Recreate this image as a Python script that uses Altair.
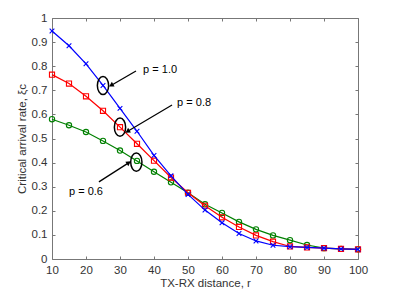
import math
import altair as alt
import pandas as pd

r = [10, 15, 20, 25, 30, 35, 40, 45, 50, 55, 60, 65, 70, 75, 80, 85, 90, 95, 100]
p10 = [0.946, 0.885, 0.81, 0.72, 0.625, 0.53, 0.43, 0.345, 0.268, 0.203, 0.15, 0.106, 0.075, 0.057, 0.051, 0.048, 0.045, 0.042, 0.04]
p08 = [0.765, 0.728, 0.675, 0.615, 0.547, 0.478, 0.408, 0.338, 0.275, 0.221, 0.173, 0.133, 0.098, 0.072, 0.052, 0.048, 0.045, 0.042, 0.04]
p06 = [0.58, 0.555, 0.527, 0.49, 0.45, 0.407, 0.362, 0.318, 0.275, 0.227, 0.191, 0.154, 0.123, 0.098, 0.078, 0.058, 0.045, 0.042, 0.04]

x_ticks = [10, 20, 30, 40, 50, 60, 70, 80, 90, 100]
y_ticks = [0, 0.1, 0.2, 0.3, 0.4, 0.5, 0.6, 0.7, 0.8, 0.9, 1.0]

# annotations
ann_text = ["p = 1.0", "p = 0.8", "p = 0.6"]
ann_tx = [36.8, 46.8, 15.0]
ann_ty = [0.784, 0.647, 0.278]
arrow_x0 = [34.7, 45.3, 23.8]
arrow_y0 = [0.780, 0.639, 0.320]
arrow_x1 = [27.6, 32.4, 32.4]
arrow_y1 = [0.722, 0.531, 0.398]
ell_x = [25, 30, 34.8]
ell_y = [0.72, 0.547, 0.402]

W, H = 306, 241
X0, X1 = 10, 100

def px(x):
    return (x - X0) / (X1 - X0) * W

def py(y):
    return -y * H

angles = []
for a, b, c, d in zip(arrow_x0, arrow_y0, arrow_x1, arrow_y1):
    dx = px(c) - px(a)
    dy = py(d) - py(b)
    angles.append(math.degrees(math.atan2(dx, -dy)) % 360)

font = "Liberation Sans"
xs = alt.Scale(domain=[X0, X1], nice=False, zero=False)
ys = alt.Scale(domain=[0, 1], nice=False, zero=False)

def series_df(vals):
    return pd.DataFrame({"r": r, "v": vals})

axis_common = dict(
    grid=False, domain=False, tickSize=3, offset=-3, tickColor="#777",
    labelFont=font, labelFontSize=11.5, labelColor="#333", titleFont=font,
    titleFontSize=11.5, titleColor="#333", titleFontWeight="normal", labelPadding=5,
    labelOverlap=False, labelFlush=False, labelExpr="format(datum.value, '~r')",
)

xaxis = alt.Axis(values=x_ticks, title="TX-RX distance, r", titlePadding=2, **axis_common)
yaxis = alt.Axis(values=y_ticks, title="Critical arrival rate, ξc", titlePadding=4, **axis_common)

def X(f):
    return alt.X(f, type="quantitative", scale=xs, axis=xaxis)

def Y(f):
    return alt.Y(f, type="quantitative", scale=ys, axis=yaxis)

def layer(vals, color, shape, size):
    d = series_df(vals)
    line = alt.Chart(d).mark_line(color=color, strokeWidth=1.2).encode(x=X("r"), y=Y("v"))
    pts = alt.Chart(d).mark_point(color=color, shape=shape, size=size, filled=False, strokeWidth=1.1, opacity=1).encode(
        x=X("r"), y=Y("v"))
    return line + pts

xpath = "M-1,-1L1,1M-1,1L1,-1"
g = layer(p06, "#008000", "circle", 28)
rd = layer(p08, "#FF0000", "square", 26)
b = layer(p10, "#0000FF", xpath, 22)

ann = pd.DataFrame({"t": ann_text, "tx": ann_tx, "ty": ann_ty, "x0": arrow_x0, "y0": arrow_y0,
                    "x1": arrow_x1, "y1": arrow_y1, "ex": ell_x, "ey": ell_y, "ang": angles})

texts = alt.Chart(ann).mark_text(align="left", baseline="middle", font=font, fontSize=11, color="black").encode(
    x=X("tx"), y=Y("ty"), text="t:N")
rules = alt.Chart(ann).mark_rule(color="black", strokeWidth=1.3).encode(
    x=X("x0"), y=Y("y0"), x2="x1:Q", y2="y1:Q")
heads = alt.Chart(ann).mark_point(shape="triangle", filled=True, color="black", size=30, opacity=1).encode(
    x=X("x1"), y=Y("y1"), angle=alt.Angle("ang:Q", scale=None))
k = 0.5523
rx = 0.62
ell_path = (f"M0,-1C{rx*k:.3f},-1 {rx},{-k} {rx},0C{rx},{k} {rx*k:.3f},1 0,1"
            f"C{-rx*k:.3f},1 {-rx},{k} {-rx},0C{-rx},{-k} {-rx*k:.3f},-1 0,-1Z")
ells = alt.Chart(ann).mark_point(shape=ell_path, filled=False, color="black", size=330, strokeWidth=1.5, opacity=1).encode(
    x=X("ex"), y=Y("ey"))

# top / right tick-only axes
frame_axis = dict(grid=False, domain=False, tickSize=3, offset=-3, tickColor="#777", labels=False, title=None)
frame = alt.Chart(series_df(p10)).mark_point(opacity=0).encode(
    x=alt.X("r:Q", scale=xs, axis=alt.Axis(orient="top", values=x_ticks, **frame_axis)),
    y=alt.Y("v:Q", scale=ys, axis=alt.Axis(orient="right", values=y_ticks, **frame_axis)))

main = alt.layer(g, rd, b, texts, rules, heads, ells)
chart = alt.layer(main, frame).resolve_axis(x="independent", y="independent").properties(
    width=W, height=H,
    autosize=alt.AutoSizeParams(type="none"),
    padding={"left": 44, "top": 10, "right": 20, "bottom": 36},
    background="white",
).configure_view(stroke="#777", strokeWidth=1)

chart.save("out.html", embed_options={"renderer": "svg", "actions": False})
